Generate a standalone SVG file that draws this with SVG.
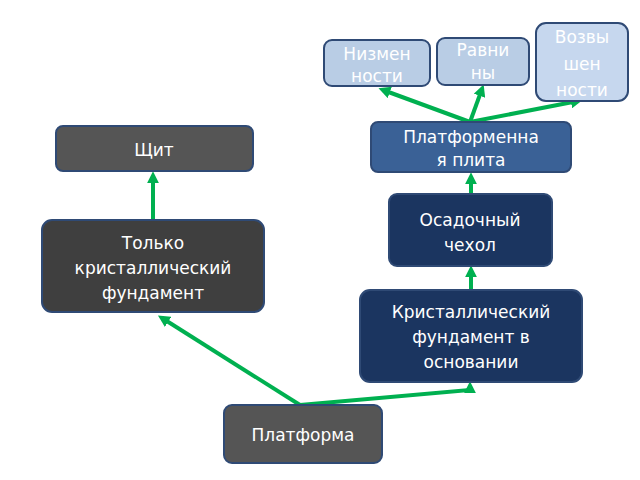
<svg xmlns="http://www.w3.org/2000/svg" width="640" height="480" viewBox="0 0 640 480">
<style>
text{font-family:"DejaVu Sans",sans-serif;font-size:17px;fill:#fff;text-anchor:middle}
.b{stroke:#2f4a75;stroke-width:2}
.c{stroke:#00b050;stroke-width:4;fill:none;marker-end:url(#a)}
</style>
<defs><marker id="a" viewBox="0 0 10 10" refX="6" refY="5" markerWidth="3" markerHeight="3" orient="auto"><path d="M0,0L10,5L0,10z" fill="#00b050"/></marker></defs>
<rect width="640" height="480" fill="#fff"/>
<g id="connectors">
<path class="c" d="M300,405L162,318"/>
<path class="c" d="M300,405L470,390L470,386"/>
<path class="c" d="M153,220L153,176"/>
<path class="c" d="M471,290L471,270"/>
<path class="c" d="M471,194L471,177"/>
<path class="c" d="M470,122L383,90"/>
<path class="c" d="M470,122L482,89"/>
<path class="c" d="M470,122L578,101"/>
</g>
<g id="n1"><rect class="b" x="324" y="40" width="106" height="46" rx="8" fill="#b9cde5"/><text x="377" y="60">Низмен</text><text x="377" y="82">ности</text></g>
<g id="n2"><rect class="b" x="437" y="38" width="92" height="47" rx="8" fill="#b9cde5"/><text x="483" y="56">Равни</text><text x="483" y="79">ны</text></g>
<g id="n3"><rect class="b" x="536" y="23" width="92" height="78" rx="10" fill="#c6d7ee"/><text x="582" y="43">Возвы</text><text x="582" y="70">шен</text><text x="582" y="96">ности</text></g>
<g id="n4"><rect class="b" x="371" y="122" width="200" height="50" rx="7" fill="#3a6196"/><text x="471" y="143">Платформенна</text><text x="471" y="166">я плита</text></g>
<g id="n5"><rect class="b" x="56" y="126" width="197" height="45" rx="7" fill="#555"/><text x="154" y="156">Щит</text></g>
<g id="n6"><rect class="b" x="389" y="194" width="163" height="72" rx="8" fill="#1b3560"/><text x="470" y="226">Осадочный</text><text x="470" y="251">чехол</text></g>
<g id="n7"><rect class="b" x="42" y="220" width="222" height="92" rx="10" fill="#3f3f3f"/><text x="153" y="249">Только</text><text x="153" y="274">кристаллический</text><text x="153" y="299">фундамент</text></g>
<g id="n8"><rect class="b" x="360" y="290" width="222" height="92" rx="10" fill="#1b3560"/><text x="471" y="318">Кристаллический</text><text x="471" y="343">фундамент в</text><text x="471" y="368">основании</text></g>
<g id="n9"><rect class="b" x="224" y="405" width="158" height="58" rx="8" fill="#555"/><text x="303" y="441">Платформа</text></g>
</svg>
